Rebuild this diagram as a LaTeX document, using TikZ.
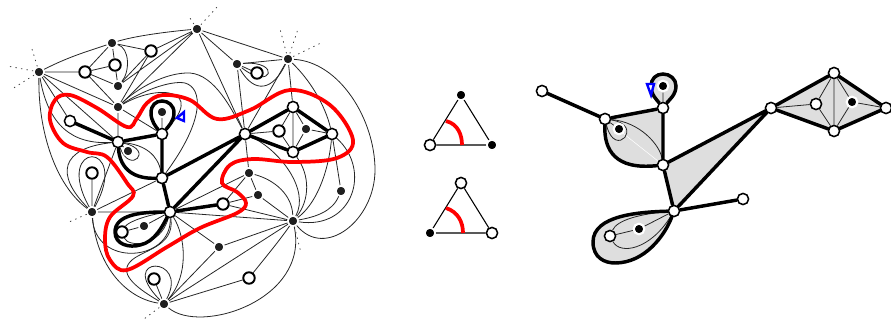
\documentclass[tikz,border=0pt]{standalone}
\usetikzlibrary{backgrounds}
\definecolor{panelgray}{gray}{0.87}
\tikzset{
 bv/.style={circle,fill=black!88,draw=white,line width=1.1pt,minimum size=7.6pt,inner sep=0pt},
 wv/.style={circle,fill=white,draw=black,line width=1.15pt,minimum size=8.4pt,inner sep=0pt},
 iv/.style={circle,fill=white,draw=black,line width=1.45pt,minimum size=8.6pt,inner sep=0pt},
 thinedge/.style={draw=black!85,line width=0.6pt},
 thickedge/.style={draw=black,line width=2.6pt,line cap=round},
 rededge/.style={draw=red,line width=2.8pt},
 stub/.style={draw=black!80,line width=0.55pt,dash pattern=on 1pt off 3.2pt},
 bluemark/.style={draw=blue,fill=white,line width=1.8pt},
 graybox/.style={fill=panelgray,draw=none}
}
\begin{document}
\begin{tikzpicture}[x=0.75pt,y=-0.75pt]
\useasboundingbox (0,0) rectangle (891,321);
% left panel nodes
\node[bv] (A) at (39,72) {};
\node[bv] (B) at (112,43) {};
\node[bv] (C) at (197,29) {};
\node[bv] (D) at (237,64) {};
\node[bv] (E) at (288,59) {};
\node[iv] (F) at (85,72) {};
\node[iv] (G) at (115,65) {};
\node[iv] (H) at (151,51) {};
\node[bv] (I) at (118,86) {};
\node[bv] (J) at (118,107) {};
\node[iv] (K) at (257,73) {};
\node[wv] (L) at (70,121) {};
\node[wv] (M) at (118,142) {};
\node[wv] (N) at (162,134) {};
\node[bv] (O) at (162,112) {};
\node[bv] (P) at (128,151) {};
\node[wv] (Q) at (162,178) {};
\node[wv] (R) at (245,134) {};
\node[wv] (S) at (293,107) {};
\node[iv] (T) at (279,131) {};
\node[bv] (U) at (306,129) {};
\node[wv] (V) at (332,134) {};
\node[wv] (W) at (293,152) {};
\node[iv] (X) at (92,173) {};
\node[bv] (Y) at (92,212) {};
\node[wv] (Z) at (170,212) {};
\node[iv] (a) at (122,232) {};
\node[bv] (b) at (144,226) {};
\node[iv] (c) at (223,204) {};
\node[bv] (d) at (249,173) {};
\node[bv] (e) at (258,195) {};
\node[bv] (f) at (293,221) {};
\node[bv] (g) at (341,191) {};
\node[bv] (h) at (219,247) {};
\node[iv] (i) at (249,278) {};
\node[iv] (j) at (154,279) {};
\node[bv] (k) at (164,304) {};
\coordinate (s1) at (32,49);
\coordinate (s2) at (7,66);
\coordinate (s3) at (12,89);
\coordinate (s4) at (188,15);
\coordinate (s5) at (218,6);
\coordinate (s6) at (280,29);
\coordinate (s7) at (298,29);
\coordinate (s8) at (323,42);
\coordinate (s9) at (301,253);
\coordinate (s10) at (69,222);
\coordinate (s11) at (144,319);
% triangles
\node[bv,fill=black] (ta) at (461,95) {};
\node[wv] (tb) at (430,145) {};
\node[bv,fill=black] (tc) at (492,145) {};
\node[wv] (ua) at (461,183) {};
\node[bv,fill=black] (ub) at (430,233) {};
\node[wv] (uc) at (492,233) {};
% right panel nodes
\node[wv] (L2) at (542,91) {};
\node[wv] (M2) at (605,119) {};
\node[wv] (N2) at (663,108) {};
\node[bv,fill=black,line width=1.6pt,minimum size=8pt] (O2) at (663,86) {};
\node[bv,fill=black,line width=1.6pt,minimum size=8pt] (P2) at (619,129) {};
\node[wv] (Q2) at (663,165) {};
\node[wv] (Z2) at (674,211) {};
\node[wv] (a2) at (610,236) {};
\node[bv,fill=black,line width=1.6pt,minimum size=8pt] (b2) at (639,229) {};
\node[wv] (R2) at (771,108) {};
\node[wv] (S2) at (834,73) {};
\node[wv] (T2) at (816,104) {};
\node[bv,fill=black,line width=1.6pt,minimum size=8pt] (U2) at (852,102) {};
\node[wv] (V2) at (886,108) {};
\node[wv] (W2) at (834,131) {};
\node[wv] (c2) at (743,199) {};
\begin{scope}[on background layer]
% thin straight edges, left
\draw[thinedge] (A)--(F) (A)--(J) (A)--(L) (A)--(M) (B)--(F) (B)--(G) (B)--(H)
 (F)--(G) (F)--(I) (F)--(J) (G)--(I) (H)--(I) (H)--(J) (C)--(H) (C)--(I) (C)--(J)
 (C)--(D) (C)--(E) (C)--(R) (D)--(E) (D)--(K) (D)--(R) (E)--(R) (E)--(S)
 (J)--(M) (J)--(N) (N)--(O) (M)--(P)
 (R)--(T) (T)--(S) (T)--(W) (S)--(W) (S)--(U) (U)--(W) (U)--(V)
 (X)--(Y) (M)--(Y) (Y)--(Q) (Y)--(Z) (Z)--(b) (b)--(a) (Z)--(d) (Z)--(f) (Z)--(h)
 (R)--(d) (d)--(c) (d)--(e) (c)--(e) (c)--(f) (e)--(f) (h)--(f) (V)--(g)
 (k)--(h) (k)--(i) (k)--(f) (k)--(j);
% thin curves, left
\draw[thinedge] (A) .. controls (70,56) and (92,50) .. (B);
\draw[thinedge] (B) .. controls (135,36) and (165,32) .. (C);
\draw[thinedge] (B) .. controls (130,48) and (130,72) .. (I);
\draw[thinedge] (A) .. controls (38,130) and (55,185) .. (Y);
\draw[thinedge] (A) .. controls (48,125) and (72,145) .. (M);
\draw[thinedge] (D) .. controls (255,95) and (273,90) .. (E);
\draw[thinedge] (D) .. controls (282,60) and (272,92) .. (D);
\draw[thinedge] (E) .. controls (310,80) and (325,105) .. (V);
\draw[thinedge] (E) .. controls (340,62) and (375,120) .. (375,170) .. controls (375,220) and (325,260) .. (f);
\draw[thinedge] (V) .. controls (372,170) and (353,230) .. (f);
\draw[thinedge] (V) .. controls (328,175) and (315,205) .. (f);
\draw[thinedge] (g) .. controls (332,212) and (315,217) .. (f);
\draw[thinedge] (W) .. controls (310,175) and (310,200) .. (f);
\draw[thinedge] (R) .. controls (280,150) and (310,190) .. (f);
\draw[thinedge] (d) .. controls (275,180) and (292,195) .. (f);
\draw[thinedge] (i) .. controls (265,258) and (280,240) .. (f);
\draw[thinedge] (k) .. controls (200,335) and (310,300) .. (f);
\draw[thinedge] (Y) .. controls (97,265) and (125,298) .. (k);
\draw[thinedge] (k) .. controls (140,290) and (118,275) .. (130,262) .. controls (140,250) and (175,248) .. (Z);
\draw[thinedge] (k) .. controls (115,255) and (190,255) .. (k);
\draw[thinedge] (k) .. controls (190,275) and (185,235) .. (Z);
\draw[thinedge] (Y) .. controls (95,268) and (172,262) .. (Z);
\draw[thinedge] (a) .. controls (128,222) and (147,215) .. (Z);
\draw[thinedge] (a) .. controls (128,247) and (160,248) .. (Z);
\draw[thinedge] (M) .. controls (60,148) and (55,175) .. (Y);
\draw[thinedge] (Y) .. controls (52,140) and (132,140) .. (Y);
\draw[thinedge] (M) .. controls (155,150) and (130,175) .. (M);
\draw[thinedge] (M) .. controls (145,145) and (158,155) .. (Q);
\draw[thinedge] (J) .. controls (160,83) and (205,90) .. (N);
\draw[thinedge] (J) .. controls (140,92) and (170,80) .. (185,83) .. controls (203,88) and (205,120) .. (Q);
\draw[thinedge] (J) .. controls (135,90) and (165,72) .. (190,73) .. controls (215,75) and (232,110) .. (R);
% thick edges, left
\draw[thickedge] (L)--(M) (M)--(N) (N)--(Q) (Q)--(R) (Q)--(Z) (Z)--(R) (Z)--(c)
 (R)--(S) (R)--(W) (S)--(V) (W)--(V);
\draw[thickedge] (M) .. controls (120,170) and (135,179) .. (Q);
\draw[thickedge] (N) .. controls (156,127) and (151,121) .. (151,113) .. controls (151,105) and (156,101) .. (162,101) .. controls (168,101) and (174,105) .. (174,113) .. controls (174,121) and (168,127) .. (N);
\draw[thickedge] (Z) .. controls (140,212) and (115,215) .. (115,232) .. controls (115,245) and (130,248) .. (140,245) .. controls (155,242) and (163,225) .. (Z);
% red closed curve
\draw[rededge] plot[smooth cycle,tension=0.6] coordinates {
 (70,95) (97,108) (127,127) (137,118) (147,103) (163,95) (190,100) (217,119) (250,110) (290,90)
 (330,105) (353,140) (337,158) (293,162) (253,159) (230,165) (222,183) (237,192) (246,203) (237,213)
 (200,228) (167,247) (127,270) (110,260) (105,240) (110,217) (133,196) (127,183) (107,157)
 (87,152) (63,143) (50,120) (55,100)};
% stubs
\draw[stub] (A)--(s1); \draw[stub] (A)--(s2); \draw[stub] (A)--(s3);
\draw[stub] (C)--(s4); \draw[stub] (C)--(s5);
\draw[stub] (E)--(s6); \draw[stub] (E)--(s7); \draw[stub] (E)--(s8);
\draw[stub] (f)--(s9); \draw[stub] (Y)--(s10); \draw[stub] (k)--(s11);
% triangles
\draw[thinedge,line width=0.8pt,draw=black] (ta)--(tb) (tb)--(tc) (tc)--(ta) (ua)--(ub) (ub)--(uc) (uc)--(ua);
\draw[rededge] (446,121) .. controls (458,124) and (462,135) .. (462,145);
\draw[rededge] (446,208) .. controls (458,212) and (463,222) .. (463,233);
% right panel fills
\path[graybox] (N2.center) .. controls (657,100) and (651,95) .. (651,86) .. controls (651,79) and (656,74) .. (663,74) .. controls (670,74) and (676,79) .. (676,86) .. controls (676,95) and (669,100) .. (N2.center);
\path[graybox] (M2.center)--(N2.center)--(Q2.center) .. controls (615,170) and (604,150) .. (M2.center);
\path[graybox] (Q2.center)--(R2.center)--(Z2.center)--cycle;
\path[graybox] (Z2.center) .. controls (640,212) and (593,215) .. (593,242) .. controls (593,258) and (605,263) .. (615,263) .. controls (645,263) and (665,235) .. (Z2.center);
\path[graybox] (R2.center)--(S2.center)--(V2.center)--(W2.center)--cycle;
\draw[draw=white,line width=0.4pt] (M2)--(Q2);
% right panel thin
\draw[thinedge] (N2)--(O2) (M2)--(P2) (Z2)--(b2) (b2)--(a2)
 (R2)--(T2) (T2)--(S2) (T2)--(W2) (S2)--(W2) (S2)--(U2) (U2)--(W2) (U2)--(V2);
\draw[thinedge] (M2) .. controls (645,125) and (615,160) .. (M2);
\draw[thinedge] (M2) .. controls (640,122) and (660,145) .. (Q2);
\draw[thinedge] (a2) .. controls (617,220) and (640,214) .. (Z2);
\draw[thinedge] (a2) .. controls (620,255) and (650,250) .. (Z2);
% right panel thick
\draw[thickedge] (L2)--(M2) (M2)--(N2) (N2)--(Q2) (Q2)--(R2) (Q2)--(Z2) (R2)--(Z2) (Z2)--(c2)
 (R2)--(S2) (S2)--(V2) (V2)--(W2) (W2)--(R2);
\draw[thickedge] (M2) .. controls (604,150) and (615,170) .. (Q2);
\draw[thickedge] (N2) .. controls (657,100) and (651,95) .. (651,86) .. controls (651,79) and (656,74) .. (663,74) .. controls (670,74) and (676,79) .. (676,86) .. controls (676,95) and (669,100) .. (N2);
\draw[thickedge] (Z2) .. controls (640,212) and (593,215) .. (593,242) .. controls (593,258) and (605,263) .. (615,263) .. controls (645,263) and (665,235) .. (Z2);
\end{scope}
% blue marks
\draw[bluemark] (177,118)--(184,112)--(184,121)--cycle;
\draw[bluemark] (647,84)--(654,84)--(651,95)--cycle;
\end{tikzpicture}
\end{document}
